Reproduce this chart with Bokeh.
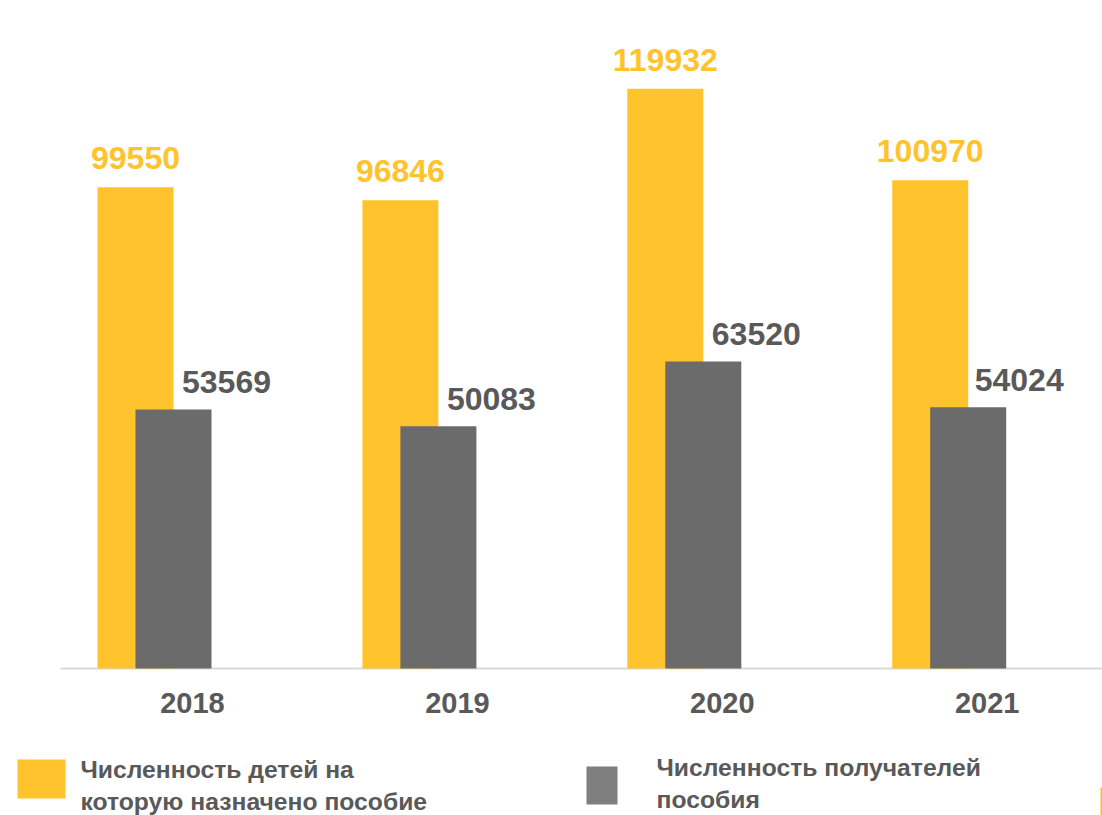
from bokeh.plotting import figure
from bokeh.models import ColumnDataSource, Range1d, FixedTicker
from bokeh.core.properties import value
from bokeh.embed import file_html
from bokeh.resources import INLINE

years = [2018, 2019, 2020, 2021]
children = [99550, 96846, 119932, 100970]
recipients = [53569, 50083, 63520, 54024]
legend_children = ["Численность детей на", "которую назначено пособие"]
legend_recipients = ["Численность получателей", "пособия"]

YELLOW = "#FFC32D"
GREY = "#6B6B6B"
TEXT = "#595959"
FONT = "Liberation Sans"
W, H = 1102, 815
BAND = 264.9
BASE_Y = 668
K = 0.004835
X0 = 2018 - 192 / BAND


def dx(px):
    return X0 + px / BAND


def dy(py):
    return (BASE_Y - py) / K


p = figure(width=W, height=H, output_backend="svg", toolbar_location=None,
           x_range=Range1d(dx(0), dx(W)), y_range=Range1d(dy(H), dy(0)),
           min_border_left=0, min_border_right=0, min_border_top=0, min_border_bottom=0)
p.outline_line_color = None
p.grid.visible = False
p.yaxis.visible = False
p.xaxis.fixed_location = 0
p.xaxis.ticker = FixedTicker(ticks=years)
p.xaxis.major_tick_line_color = None
p.xaxis.minor_tick_line_color = None
p.xaxis.axis_line_color = None
p.xaxis.major_label_text_font = FONT
p.xaxis.major_label_text_font_style = "bold"
p.xaxis.major_label_text_font_size = "29px"
p.xaxis.major_label_text_color = TEXT
p.xaxis.major_label_standoff = 18

p.segment(x0=[dx(60)], y0=[0], x1=[dx(W)], y1=[0], line_color="#D9D9D9", line_width=2)

bw = 76 / BAND
off_y = -57 / BAND
off_g = -19 / BAND
grey_label_px = [34, 34, 34, 32]
src = ColumnDataSource(dict(
    children=children, recipients=recipients,
    xy=[y + off_y for y in years], xg=[y + off_g for y in years],
    xgl=[y + d / BAND for y, d in zip(years, grey_label_px)],
    ly=[str(v) for v in children], lg=[str(v) for v in recipients],
))
p.vbar(x="xy", top="children", bottom=0, width=bw, source=src, fill_color=YELLOW, line_color=None)
p.vbar(x="xg", top="recipients", bottom=0, width=bw, source=src, fill_color=GREY, line_color=None)

p.text(x="xy", y="children", text="ly", source=src, text_font=value(FONT), text_font_style="bold",
       text_font_size="32px", text_color=YELLOW, text_align="center", text_baseline="alphabetic", y_offset=-29)
p.text(x="xgl", y="recipients", text="lg", source=src, text_font=value(FONT), text_font_style="bold",
       text_font_size="32px", text_color=TEXT, text_align="center", text_baseline="alphabetic", y_offset=-27)


def box(left, right, top, bottom, color):
    p.quad(left=[dx(left)], right=[dx(right)], top=[dy(top)], bottom=[dy(bottom)], fill_color=color, line_color=None)


def label(x, y, text):
    p.text(x=[dx(x)], y=[dy(y)], text=[text], text_font=value(FONT), text_font_style="bold",
           text_font_size="24.7px", text_color=TEXT, text_baseline="alphabetic")


box(17, 65, 759, 798, YELLOW)
box(586, 617, 766, 804, "#7F7F7F")
box(1100, 1102, 787, 815, "#FFC000")
label(80, 769, legend_children[0])
label(80, 801, legend_children[1])
label(656, 767, legend_recipients[0])
label(656, 799, legend_recipients[1])

open("out.html", "w").write(file_html(p, INLINE))
